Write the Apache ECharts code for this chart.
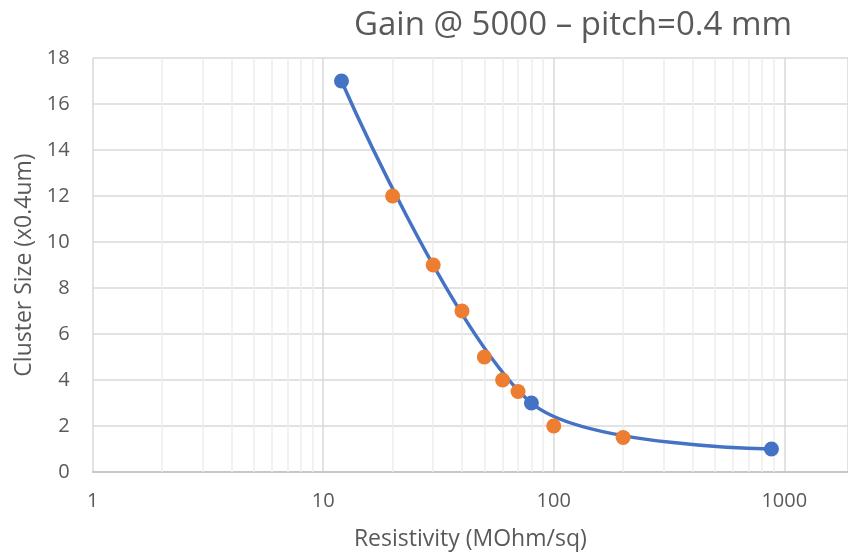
<!DOCTYPE html>
<html>
<head>
<meta charset="utf-8">
<script src="https://cdn.jsdelivr.net/npm/echarts@6/dist/echarts.min.js"></script>
<style>
  html, body { margin: 0; padding: 0; background: #fff; }
  #chart { width: 848px; height: 558px; }
</style>
</head>
<body>
<div id="chart"></div>
<script>
// blue points (smoothed line) and orange points (markers only)
const blueX = [12, 80, 880]
const blueY = [17, 3, 1]
const orangeX = [20, 30, 40, 50, 60, 70, 100, 200]
const orangeY = [12, 9, 7, 5, 4, 3.5, 2, 1.5]
const xTickLabels = [1, 10, 100, 1000]
// minor log gridlines
const minorX = [2, 3, 4, 5, 6, 7, 8, 9, 20, 30, 40, 50, 60, 70, 80, 90, 200, 300, 400, 500, 600, 700, 800, 900]

const font = '"Open Sans", sans-serif'
const textColor = '#595959'

const chart = echarts.init(document.getElementById('chart'))

const option = {
  animation: false,
  title: {
    text: 'Gain @ 5000 – pitch=0.4 mm',
    left: 568,
    textAlign: 'center',
    top: 4,
    textStyle: { fontFamily: font, fontSize: 33, fontWeight: 'normal', color: textColor }
  },
  grid: { left: 92.7, right: 0, top: 58, bottom: 86 },
  xAxis: {
    type: 'log',
    logBase: 10,
    min: 1,
    max: 1890,
    name: 'Resistivity (MOhm/sq)',
    nameLocation: 'middle',
    nameGap: 56,
    nameTextStyle: { fontFamily: font, fontSize: 23, color: textColor },
    axisLine: { show: true, lineStyle: { color: '#bfbfbf', width: 1.5 } },
    axisTick: { show: false },
    axisLabel: {
      fontFamily: font, fontSize: 20, color: textColor, margin: 19,
      showMaxLabel: false,
      formatter: v => xTickLabels.indexOf(Math.round(v)) >= 0 && Math.abs(v - Math.round(v)) < 1e-6 ? String(Math.round(v)) : ''
    },
    splitLine: { show: true, lineStyle: { color: '#d9d9d9', width: 1.5 } }
  },
  yAxis: {
    type: 'value',
    min: 0,
    max: 18,
    interval: 2,
    name: 'Cluster Size (x0.4um)',
    nameLocation: 'middle',
    nameGap: 55,
    nameTextStyle: { fontFamily: font, fontSize: 23, color: textColor },
    axisLine: { show: false },
    axisTick: { show: false },
    axisLabel: { fontFamily: font, fontSize: 20, color: textColor, margin: 23 },
    splitLine: { show: true, lineStyle: { color: '#d9d9d9', width: 1.5 } }
  },
  series: [
    {
      name: 'minor',
      type: 'line',
      data: [],
      z: 1,
      markLine: {
        silent: true,
        z: 1,
        symbol: 'none',
        label: { show: false },
        lineStyle: { color: '#ededed', width: 1.5, type: 'solid' },
        data: minorX.map(v => ({ xAxis: v }))
      }
    },
    {
      name: 'fit',
      type: 'line',
      data: blueX.map((x, i) => [x, blueY[i]]),
      smooth: 0.3,
      symbol: 'circle',
      symbolSize: 15,
      itemStyle: { color: '#4472c4' },
      lineStyle: { color: '#4472c4', width: 3.5 },
      z: 3
    },
    {
      name: 'measured',
      type: 'scatter',
      data: orangeX.map((x, i) => [x, orangeY[i]]),
      symbol: 'circle',
      symbolSize: 15,
      itemStyle: { color: '#ed7d31', opacity: 1 },
      z: 4
    }
  ]
}

chart.setOption(option)
</script>
</body>
</html>
